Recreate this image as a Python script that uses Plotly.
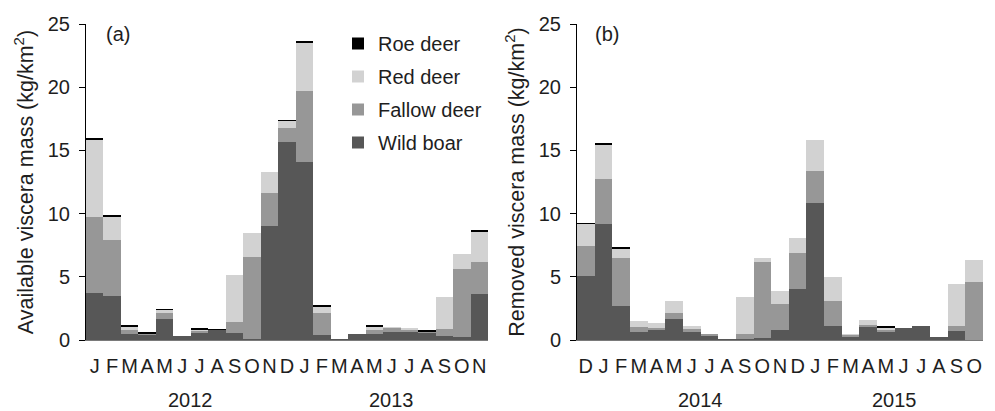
import plotly.graph_objects as go

# ---------------- data ----------------
months_a = ["J","F","M","A","M","J","J","A","S","O","N","D",
            "J","F","M","A","M","J","J","A","S","O","N"]
years_a = ["2012"]*12 + ["2013"]*11

months_b = ["D","J","F","M","A","M","J","J","A","S","O","N",
            "D","J","F","M","A","M","J","J","A","S","O"]
years_b = [""] + ["2014"]*12 + ["2015"]*10

wild_a   = [3.7, 3.5, 0.45, 0.4, 1.65, 0.3, 0.55, 0.8, 0.55, 0.05, 9.05, 15.7,
            14.1, 0.4, 0.05, 0.45, 0.5, 0.6, 0.65, 0.6, 0.3, 0.25, 3.65]
fallow_a = [6.05, 4.4, 0.35, 0.1, 0.45, 0.0, 0.2, 0.0, 0.85, 6.5, 2.6, 1.1,
            5.6, 1.7, 0.0, 0.0, 0.3, 0.4, 0.2, 0.05, 0.55, 5.35, 2.5]
red_a    = [6.1, 1.9, 0.3, 0.05, 0.3, 0.0, 0.05, 0.0, 3.75, 1.95, 1.65, 0.55,
            3.8, 0.55, 0.0, 0.0, 0.25, 0.02, 0.05, 0.0, 2.55, 1.2, 2.45]
roe_a    = [0.1, 0.1, 0.02, 0.1, 0.02, 0.0, 0.1, 0.05, 0.0, 0.0, 0.0, 0.05,
            0.1, 0.1, 0.0, 0.0, 0.1, 0.0, 0.0, 0.08, 0.0, 0.0, 0.1]

wild_b   = [5.05, 9.15, 2.7, 0.6, 0.8, 1.7, 0.65, 0.35, 0.02, 0.05, 0.15, 0.8,
            4.0, 10.85, 1.1, 0.2, 1.05, 0.7, 0.92, 1.1, 0.2, 0.75, 0.0]
fallow_b = [2.35, 3.55, 3.75, 0.45, 0.15, 0.4, 0.25, 0.05, 0.0, 0.45, 6.0, 2.05,
            2.85, 2.5, 2.0, 0.2, 0.15, 0.1, 0.0, 0.0, 0.0, 0.35, 4.6]
red_b    = [1.8, 2.8, 0.8, 0.45, 0.4, 1.0, 0.2, 0.0, 0.0, 2.9, 0.35, 1.0,
            1.2, 2.5, 1.9, 0.05, 0.35, 0.15, 0.0, 0.0, 0.0, 3.3, 1.75]
roe_b    = [0.05, 0.05, 0.1, 0.0, 0.0, 0.0, 0.0, 0.0, 0.0, 0.0, 0.0, 0.0,
            0.0, 0.0, 0.0, 0.0, 0.0, 0.1, 0.0, 0.0, 0.0, 0.0, 0.0]

species = ["Wild boar", "Fallow deer", "Red deer", "Roe deer"]
legend_rank = {"Roe deer": 1, "Red deer": 2, "Fallow deer": 3, "Wild boar": 4}
colors = {"Wild boar": "#575757", "Fallow deer": "#979797",
          "Red deer": "#d2d2d2", "Roe deer": "#000000"}

panel_a = {"Wild boar": wild_a, "Fallow deer": fallow_a, "Red deer": red_a, "Roe deer": roe_a}
panel_b = {"Wild boar": wild_b, "Fallow deer": fallow_b, "Red deer": red_b, "Roe deer": roe_b}

FONT = "Liberation Sans, Arial, sans-serif"
TXT = "#1e1e1e"

fig = go.Figure()
xa = list(range(len(months_a)))
xb = list(range(len(months_b)))
for sp in species:
    fig.add_trace(go.Bar(x=xa, y=panel_a[sp], name=sp, marker_color=colors[sp],
                         marker_line_width=0, xaxis="x", yaxis="y",
                         legendgroup=sp, legendrank=legend_rank[sp], showlegend=True))
for sp in species:
    fig.add_trace(go.Bar(x=xb, y=panel_b[sp], name=sp, marker_color=colors[sp],
                         marker_line_width=0, xaxis="x2", yaxis="y2",
                         legendgroup=sp, showlegend=False))

W, H = 995, 411
TOP, BOT = 24, 340


def px(v):
    return v / W


yaxis_common = dict(range=[0, 25], tickvals=[0, 5, 10, 15, 20, 25], ticks="outside",
                    ticklen=6, tickwidth=1, tickcolor="black", showline=True,
                    linecolor="black", linewidth=1, showgrid=False, zeroline=False,
                    tickfont=dict(size=20, color=TXT, family=FONT),
                    ticklabelstandoff=5)
xaxis_common = dict(range=[-0.5, 22.5], showline=True, linecolor="#7a7a7a", linewidth=1,
                    ticks="", showgrid=False, zeroline=False,
                    tickfont=dict(size=20, color=TXT, family=FONT),
                    ticklabelstandoff=8)

fig.update_layout(
    width=W, height=H,
    margin=dict(l=0, r=0, t=TOP, b=H - BOT, pad=0),
    paper_bgcolor="white", plot_bgcolor="white",
    barmode="stack", bargap=0,
    font=dict(family=FONT, color=TXT, size=20),
    xaxis=dict(domain=[px(86), px(488)], anchor="y",
               tickvals=xa, ticktext=months_a, **xaxis_common),
    xaxis2=dict(domain=[px(577), px(983)], anchor="y2",
                tickvals=xb, ticktext=months_b, **xaxis_common),
    yaxis=dict(anchor="x", title=dict(text="Available viscera mass (kg/km<sup>2</sup>)",
                                      standoff=8, font=dict(size=21.5, color=TXT)),
               **yaxis_common),
    yaxis2=dict(anchor="x2", title=dict(text="Removed viscera mass (kg/km<sup>2</sup>)",
                                        standoff=8, font=dict(size=21.5, color=TXT)),
                **yaxis_common),
    legend=dict(x=px(338), y=(BOT - 24) / (BOT - TOP), xanchor="left", yanchor="top",
                traceorder="grouped", tracegroupgap=4,
                bgcolor="rgba(0,0,0,0)", font=dict(size=20, color=TXT, family=FONT),
                itemclick=False),
)

# year labels centred under their month groups
def add_years(years, xref):
    seen = []
    for y in years:
        if y and y not in seen:
            seen.append(y)
    for y in seen:
        idx = [i for i, v in enumerate(years) if v == y]
        fig.add_annotation(x=(idx[0] + idx[-1]) / 2, y=(BOT - 400) / (BOT - TOP),
                           xref=xref, yref="paper", text=y, showarrow=False,
                           font=dict(size=20, color=TXT, family=FONT),
                           xanchor="center", yanchor="middle")

add_years(years_a, "x")
add_years(years_b, "x2")

fig.add_annotation(x=px(104), y=(BOT - 34) / (BOT - TOP), xref="paper", yref="paper",
                   text="(a)", showarrow=False, xanchor="left", yanchor="middle",
                   font=dict(size=20, color=TXT, family=FONT))
fig.add_annotation(x=px(593), y=(BOT - 34) / (BOT - TOP), xref="paper", yref="paper",
                   text="(b)", showarrow=False, xanchor="left", yanchor="middle",
                   font=dict(size=20, color=TXT, family=FONT))

fig.write_html("out.html")
